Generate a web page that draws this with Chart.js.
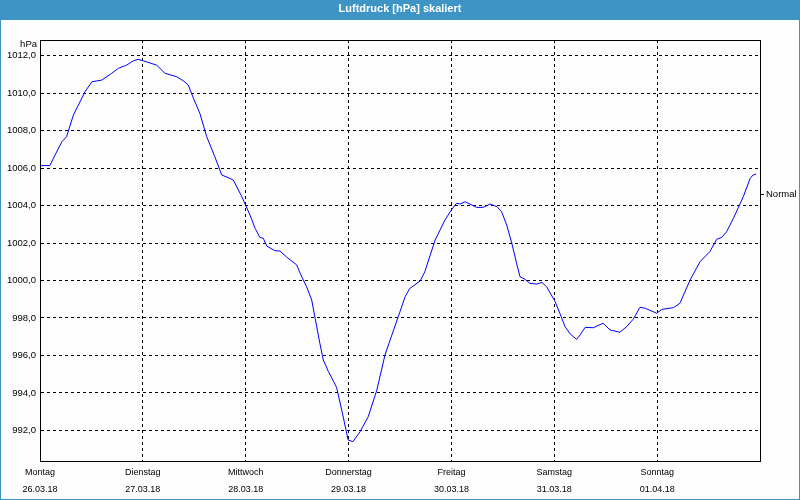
<!DOCTYPE html>
<html>
<head>
<meta charset="utf-8">
<script src="https://cdn.jsdelivr.net/npm/chart.js@4"></script>
<style>
  body { margin: 0; background: #fff; }
  #wrap { width: 800px; height: 500px; }
</style>
</head>
<body>
<div id="wrap"><canvas id="myChart" width="800" height="500"></canvas></div>
<script>
// Luftdruck over one week, hours since Montag 00:00
const hours = [0, 2.3, 3.5, 5.1, 6.2, 7.8, 10.5, 12.1, 14.4, 16.7,
    18.3, 20.2, 21.8, 22.9, 24.1, 27.2, 29.2, 31.9, 33.4, 34.6,
    35.8, 37.3, 38.9, 40.8, 42.4, 44.3, 45.1, 47.1, 49.0, 50.2,
    51.3, 52.1, 52.9, 54.8, 56.0, 57.6, 59.9, 60.7, 62.2, 63.4,
    64.2, 65.3, 66.1, 67.3, 69.2, 70.4, 71.9, 73.0, 74.7, 76.6,
    78.6, 80.5, 81.7, 83.6, 85.2, 86.3, 88.7, 89.8, 92.2, 94.5,
    96.1, 97.2, 98.0, 99.2, 101.9, 103.4, 105.0, 106.6, 107.7, 108.9,
    110.1, 111.2, 112.0, 113.2, 114.3, 115.9, 117.1, 118.2, 120.2, 121.3,
    122.5, 123.7, 125.2, 126.0, 127.2, 129.1, 131.4, 133.0, 135.3, 136.9,
    138.4, 140.0, 141.2, 143.9, 145.1, 147.8, 149.3, 151.7, 154.0, 156.3,
    157.9, 159.1, 160.2, 161.8, 164.1, 165.7, 166.4, 167.1];

const pressure = [1006.13, 1006.13, 1006.69, 1007.40, 1007.67, 1008.83, 1010.07, 1010.60, 1010.69, 1011.05,
    1011.32, 1011.49, 1011.72, 1011.80, 1011.72, 1011.49, 1011.05, 1010.87, 1010.66, 1010.43,
    1009.72, 1008.92, 1007.67, 1006.60, 1005.63, 1005.45, 1005.36, 1004.47, 1003.49, 1002.78,
    1002.30, 1002.25, 1001.84, 1001.59, 1001.57, 1001.24, 1000.83, 1000.38, 999.67, 998.96,
    997.98, 996.65, 995.76, 995.14, 994.30, 993.09, 991.49, 991.40, 991.94, 992.74,
    994.16, 996.03, 996.83, 998.07, 999.14, 999.58, 999.97, 1000.47, 1002.16, 1003.23,
    1003.80, 1004.12, 1004.08, 1004.20, 1003.90, 1003.90, 1004.08, 1003.94, 1003.67, 1002.96,
    1001.98, 1000.92, 1000.20, 1000.06, 999.85, 999.81, 999.90, 999.67, 998.87, 998.25,
    997.54, 997.15, 996.86, 997.09, 997.50, 997.48, 997.72, 997.36, 997.24, 997.54,
    997.93, 998.57, 998.52, 998.25, 998.46, 998.55, 998.78, 1000.03, 1001.00, 1001.54,
    1002.20, 1002.30, 1002.60, 1003.32, 1004.47, 1005.45, 1005.63, 1005.68];

const dayNames = ['Montag', 'Dienstag', 'Mittwoch', 'Donnerstag', 'Freitag', 'Samstag', 'Sonntag'];
const dayDates = ['26.03.18', '27.03.18', '28.03.18', '29.03.18', '30.03.18', '31.03.18', '01.04.18'];
const dayTicks = [0, 24, 48, 72, 96, 120, 144, 168];
const yTicks = [992, 994, 996, 998, 1000, 1002, 1004, 1006, 1008, 1010, 1012];
const normalValue = 1004.6;
const yMin = 990.37;
const yMax = 1012.83;

const FONT = '"Liberation Sans", Arial, sans-serif';
const BLUE = '#3d94c5';

// title bar, frame round the plot, "hPa" unit label
const framePlugin = {
    id: 'frame',
    beforeDraw(chart) {
        const ctx = chart.ctx;
        ctx.save();
        ctx.fillStyle = '#fcfdfc';
        ctx.fillRect(0, 0, chart.width, chart.height);
        ctx.fillStyle = BLUE;
        ctx.fillRect(0, 0, chart.width, 20);
        ctx.restore();
    },
    afterDraw(chart) {
        const ctx = chart.ctx;
        const a = chart.chartArea;
        ctx.save();
        ctx.strokeStyle = '#000';
        ctx.lineWidth = 1;
        const l = Math.round(a.left) + 0.5, t = Math.round(a.top) + 0.5;
        const r = Math.round(a.right) + 0.5, b = Math.round(a.bottom) + 0.5;
        ctx.strokeRect(l, t, r - l, b - t);
        ctx.fillStyle = '#000';
        ctx.font = '9.5px ' + FONT;
        ctx.textAlign = 'right';
        ctx.textBaseline = 'middle';
        ctx.fillText('hPa', a.left - 3, a.top + 4);
        ctx.strokeStyle = BLUE;
        ctx.strokeRect(0.5, 0.5, chart.width - 1, chart.height - 1);
        ctx.restore();
    }
};

const ctx = document.getElementById('myChart');
new Chart(ctx, {
    type: 'line',
    data: {
        datasets: [{
            label: 'Luftdruck',
            data: hours.map((h, i) => ({ x: h, y: pressure[i] })),
            borderColor: '#0000ff',
            borderWidth: 1,
            pointRadius: 0,
            tension: 0,
            fill: false
        }]
    },
    options: {
        responsive: false,
        animation: false,
        layout: { padding: 0 },
        plugins: {
            legend: { display: false },
            tooltip: { enabled: false },
            title: {
                display: true,
                text: 'Luftdruck [hPa] skaliert',
                color: '#ffffff',
                font: { family: FONT, size: 11, weight: 'bold' },
                padding: { top: 2.5, bottom: 24.3 }
            }
        },
        scales: {
            x: {
                type: 'linear',
                min: 0,
                max: 168,
                afterBuildTicks: s => { s.ticks = dayTicks.map(v => ({ value: v })); },
                afterFit: s => { s.height = 39; },
                grid: { color: '#000', drawTicks: false },
                border: { color: '#000', dash: [3, 3] },
                ticks: {
                    autoSkip: false,
                    maxRotation: 0,
                    padding: 4,
                    color: '#000',
                    font: { family: FONT, size: 9, lineHeight: 1.78 },
                    callback: (v, i) => i < dayNames.length ? [dayNames[i], dayDates[i]] : ''
                }
            },
            y: {
                min: yMin,
                max: yMax,
                afterBuildTicks: s => { s.ticks = yTicks.map(v => ({ value: v })); },
                afterFit: s => { s.width = 40; },
                grid: { color: '#000', drawTicks: false },
                border: { color: '#000', dash: [3, 3] },
                ticks: {
                    padding: 4,
                    color: '#000',
                    font: { family: FONT, size: 9.5 },
                    callback: v => v.toFixed(1).replace('.', ',')
                }
            },
            y2: {
                position: 'right',
                min: yMin,
                max: yMax,
                afterBuildTicks: s => { s.ticks = [{ value: normalValue }]; },
                afterFit: s => { s.width = 40; },
                grid: { drawOnChartArea: false, drawTicks: true, tickLength: 4, tickColor: '#000' },
                border: { display: false },
                ticks: {
                    padding: 2,
                    color: '#000',
                    font: { family: FONT, size: 9.5 },
                    callback: () => 'Normal'
                }
            }
        }
    },
    plugins: [framePlugin]
});
</script>
</body>
</html>
